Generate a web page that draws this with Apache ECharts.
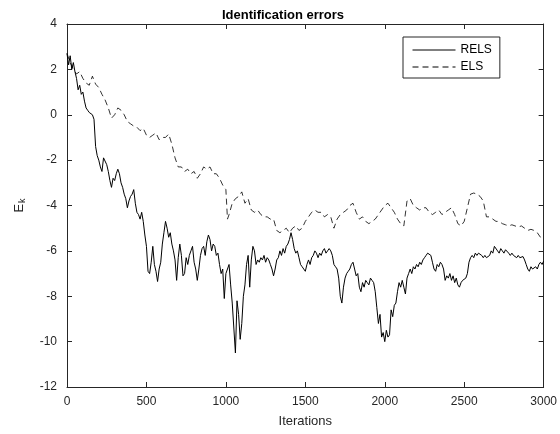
<!DOCTYPE html>
<html>
<head>
<meta charset="utf-8">
<script src="https://cdn.jsdelivr.net/npm/echarts@6/dist/echarts.min.js"></script>
<style>
html,body{margin:0;padding:0;background:#fff;}
#c{width:560px;height:434px;}
</style>
</head>
<body>
<div id="c"></div>
<script>
// ---- data ----
const relsStep = 10;
const relsValues = [
2.7,2.2,2.6,2.0,2.3,1.9,1.6,1.1,1.3,0.9,
1.0,0.6,0.3,0.2,0.1,0.1,0.0,-0.2,-1.4,-1.8,
-2.0,-2.3,-2.5,-1.9,-1.85,-2.2,-2.5,-2.9,-3.2,-2.8,
-2.9,-2.6,-2.4,-2.6,-3.0,-3.2,-3.5,-3.7,-4.1,-3.8,
-3.6,-3.5,-3.3,-3.9,-4.3,-4.4,-4.6,-4.3,-4.7,-5.3,
-5.8,-6.9,-7.0,-6.5,-5.8,-6.6,-6.9,-7.35,-6.8,-6.5,
-5.7,-5.2,-4.7,-5.0,-5.4,-5.2,-5.7,-6.0,-6.4,-7.3,
-6.3,-5.7,-6.2,-7.1,-7.0,-6.3,-6.6,-6.2,-6.0,-5.8,
-6.5,-6.8,-7.3,-6.8,-6.2,-5.9,-5.8,-6.2,-5.6,-5.3,
-5.5,-6.0,-5.7,-5.8,-6.2,-6.1,-6.6,-7.0,-6.8,-8.1,
-7.0,-6.8,-6.6,-7.5,-8.3,-9.4,-10.5,-8.2,-8.8,-9.9,
-9.2,-8.0,-7.5,-6.6,-6.2,-7.6,-6.4,-5.8,-6.0,-6.6,
-6.4,-6.5,-6.3,-6.4,-6.2,-6.5,-6.3,-6.4,-6.6,-6.8,
-7.1,-6.8,-6.4,-6.3,-6.0,-6.2,-5.9,-6.1,-5.8,-5.7,
-5.5,-5.2,-5.5,-5.9,-6.1,-6.0,-6.3,-6.6,-6.7,-6.8,
-6.9,-6.6,-6.4,-6.6,-6.3,-6.2,-6.0,-6.1,-6.3,-6.1,
-6.2,-6.0,-5.9,-6.1,-6.0,-5.9,-6.0,-6.2,-6.6,-6.7,
-6.8,-7.2,-8.0,-8.3,-7.6,-7.2,-7.0,-6.9,-6.8,-6.6,
-6.5,-6.8,-7.1,-7.0,-7.6,-7.8,-7.4,-7.6,-7.3,-7.4,
-7.5,-7.2,-7.3,-7.4,-7.8,-8.5,-9.2,-8.8,-9.8,-9.6,
-10.0,-9.5,-9.8,-9.7,-8.6,-8.9,-8.4,-8.3,-7.8,-7.4,
-7.6,-7.3,-7.6,-7.9,-7.2,-7.0,-6.8,-7.0,-6.7,-6.8,
-6.6,-6.7,-6.5,-6.6,-6.4,-6.3,-6.2,-6.1,-6.05,-6.2,
-6.5,-6.8,-6.9,-6.6,-6.7,-6.5,-6.6,-6.8,-7.3,-7.1,
-7.2,-7.0,-7.3,-7.1,-7.4,-7.2,-7.5,-7.6,-7.4,-7.3,
-7.3,-7.2,-7.0,-6.5,-6.3,-6.2,-6.3,-6.1,-6.2,-6.1,
-6.1,-6.2,-6.3,-6.2,-6.3,-6.25,-6.2,-6.0,-6.1,-5.8,
-5.75,-6.0,-6.1,-5.9,-6.0,-6.1,-5.95,-6.0,-6.1,-6.2,
-6.1,-6.2,-6.25,-6.3,-6.2,-6.3,-6.3,-6.25,-6.4,-6.6,
-6.8,-6.9,-6.7,-6.8,-6.75,-6.7,-6.8,-6.6,-6.5,-6.6,
-6.45
];
const elsIters = [
0,20,40,60,80,100,120,140,160,180,200,220,240,260,280,300,320,340,360,380,
400,420,440,460,480,500,520,540,560,580,600,620,640,660,680,700,720,740,760,780,
800,820,840,860,880,900,920,940,960,980,1000,1010,1020,1040,1060,1080,1100,1120,1140,1160,
1180,1200,1220,1240,1260,1280,1300,1320,1340,1360,1380,1400,1420,1440,1460,1480,1500,1520,1540,1560,
1580,1600,1620,1640,1660,1680,1700,1720,1740,1760,1780,1800,1820,1840,1860,1880,1900,1920,1940,1960,
1980,2000,2020,2040,2060,2080,2100,2120,2140,2160,2180,2200,2220,2240,2260,2280,2300,2320,2340,2360,
2380,2400,2420,2440,2460,2480,2500,2520,2540,2560,2580,2600,2620,2640,2660,2680,2700,2720,2740,2760,
2780,2800,2820,2840,2860,2880,2900,2920,2940,2960,2980,3000
];
const elsValues = [
2.7,2.3,2.0,1.8,1.9,1.6,1.4,1.3,1.7,1.35,1.2,0.9,0.65,0.3,-0.15,0.0,0.3,0.2,0.0,-0.3,
-0.4,-0.5,-0.55,-0.7,-0.6,-0.9,-1.0,-0.9,-0.8,-1.1,-1.0,-1.0,-0.85,-1.3,-1.9,-2.3,-2.3,-2.5,-2.4,-2.6,
-2.5,-2.8,-2.6,-2.3,-2.4,-2.3,-2.6,-2.6,-2.8,-3.1,-3.3,-4.6,-4.4,-3.9,-3.7,-3.6,-3.4,-3.9,-3.7,-4.2,
-4.3,-4.2,-4.4,-4.5,-4.5,-4.6,-4.6,-5.1,-5.2,-5.1,-5.0,-5.2,-5.0,-4.9,-5.1,-5.0,-4.7,-4.5,-4.3,-4.2,
-4.3,-4.3,-4.5,-4.4,-4.5,-5.0,-4.6,-4.4,-4.3,-4.2,-4.0,-3.9,-4.3,-4.6,-4.5,-4.7,-4.8,-4.7,-4.6,-4.4,
-4.2,-4.0,-3.9,-4.1,-4.3,-4.6,-4.8,-4.9,-3.8,-3.7,-4.0,-4.1,-4.2,-4.1,-4.1,-4.3,-4.4,-4.3,-4.2,-4.4,
-4.3,-4.2,-4.1,-4.4,-4.8,-4.9,-4.7,-4.1,-3.5,-3.45,-3.5,-3.6,-3.8,-4.5,-4.5,-4.6,-4.7,-4.7,-4.8,-4.85,
-4.9,-4.85,-4.9,-4.95,-4.9,-5.0,-5.1,-5.05,-5.1,-5.2,-5.4,-5.3
];
const seriesNames = ['RELS', 'ELS'];
const xTicks = {min: 0, max: 3000, interval: 500};
const yTicks = {min: -12, max: 4, interval: 2};

const relsData = relsValues.map((v, i) => [i * relsStep, v]);
const elsData = elsValues.map((v, i) => [elsIters[i], v]);

const axisColor = '#262626';
const font = 'Liberation Sans, Arial, Helvetica, sans-serif';

const chart = echarts.init(document.getElementById('c'), null, {renderer: 'canvas'});
const boxAxis = (extra) => Object.assign({
  type: 'value',
  axisLine: {show: true, onZero: false, lineStyle: {color: axisColor, width: 1}},
  axisTick: {show: true, inside: true, length: 5, lineStyle: {color: axisColor, width: 1}},
  splitLine: {show: false},
}, extra);

chart.setOption({
  animation: false,
  backgroundColor: '#fff',
  textStyle: {fontFamily: font},
  title: {
    text: 'Identification errors',
    left: 217, top: 4,
    textStyle: {fontFamily: font, fontSize: 13, fontWeight: 'bold', color: '#000'}
  },
  grid: {left: 67, right: 16, top: 24, bottom: 47, containLabel: false},
  legend: {
    data: seriesNames,
    orient: 'vertical',
    left: 403, top: 37,
    padding: [7, 8, 5, 9],
    itemWidth: 43, itemHeight: 12, itemGap: 5,
    backgroundColor: '#fff',
    borderColor: axisColor, borderWidth: 1,
    itemStyle: {opacity: 0},
    lineStyle: {width: 1},
    textStyle: {fontFamily: font, fontSize: 12, color: '#000'}
  },
  xAxis: [
    boxAxis(Object.assign({
      position: 'bottom',
      name: 'Iterations', nameLocation: 'middle', nameGap: 28,
      nameTextStyle: {fontFamily: font, fontSize: 13, color: axisColor},
      axisLabel: {show: true, margin: 9, fontSize: 12, color: axisColor, fontFamily: font,
                  formatter: (v) => String(v)}
    }, xTicks)),
    boxAxis(Object.assign({position: 'top', axisLabel: {show: false}}, xTicks))
  ],
  yAxis: [
    boxAxis(Object.assign({
      position: 'left',
      name: '{a|E}{b|k}', nameLocation: 'middle', nameGap: 40,
      nameTextStyle: {
        fontFamily: font, color: axisColor,
        rich: {
          a: {fontSize: 13, fontFamily: font, color: axisColor},
          b: {fontSize: 9, fontFamily: font, color: axisColor, padding: [6, 0, 0, 1]}
        }
      },
      axisLabel: {show: true, margin: 10, fontSize: 12, color: axisColor, fontFamily: font,
                  formatter: (v) => String(v)}
    }, yTicks)),
    boxAxis(Object.assign({position: 'right', axisLabel: {show: false}}, yTicks))
  ],
  series: [
    {
      name: seriesNames[0], type: 'line', data: relsData,
      xAxisIndex: 0, yAxisIndex: 0,
      symbol: 'none', showSymbol: false,
      lineStyle: {color: '#000', width: 1},
      itemStyle: {color: '#000'}
    },
    {
      name: seriesNames[1], type: 'line', data: elsData,
      xAxisIndex: 1, yAxisIndex: 1,
      symbol: 'none', showSymbol: false,
      lineStyle: {color: '#000', width: 0.8, type: [6, 4]},
      itemStyle: {color: '#000'}
    }
  ]
});
</script>
</body>
</html>
